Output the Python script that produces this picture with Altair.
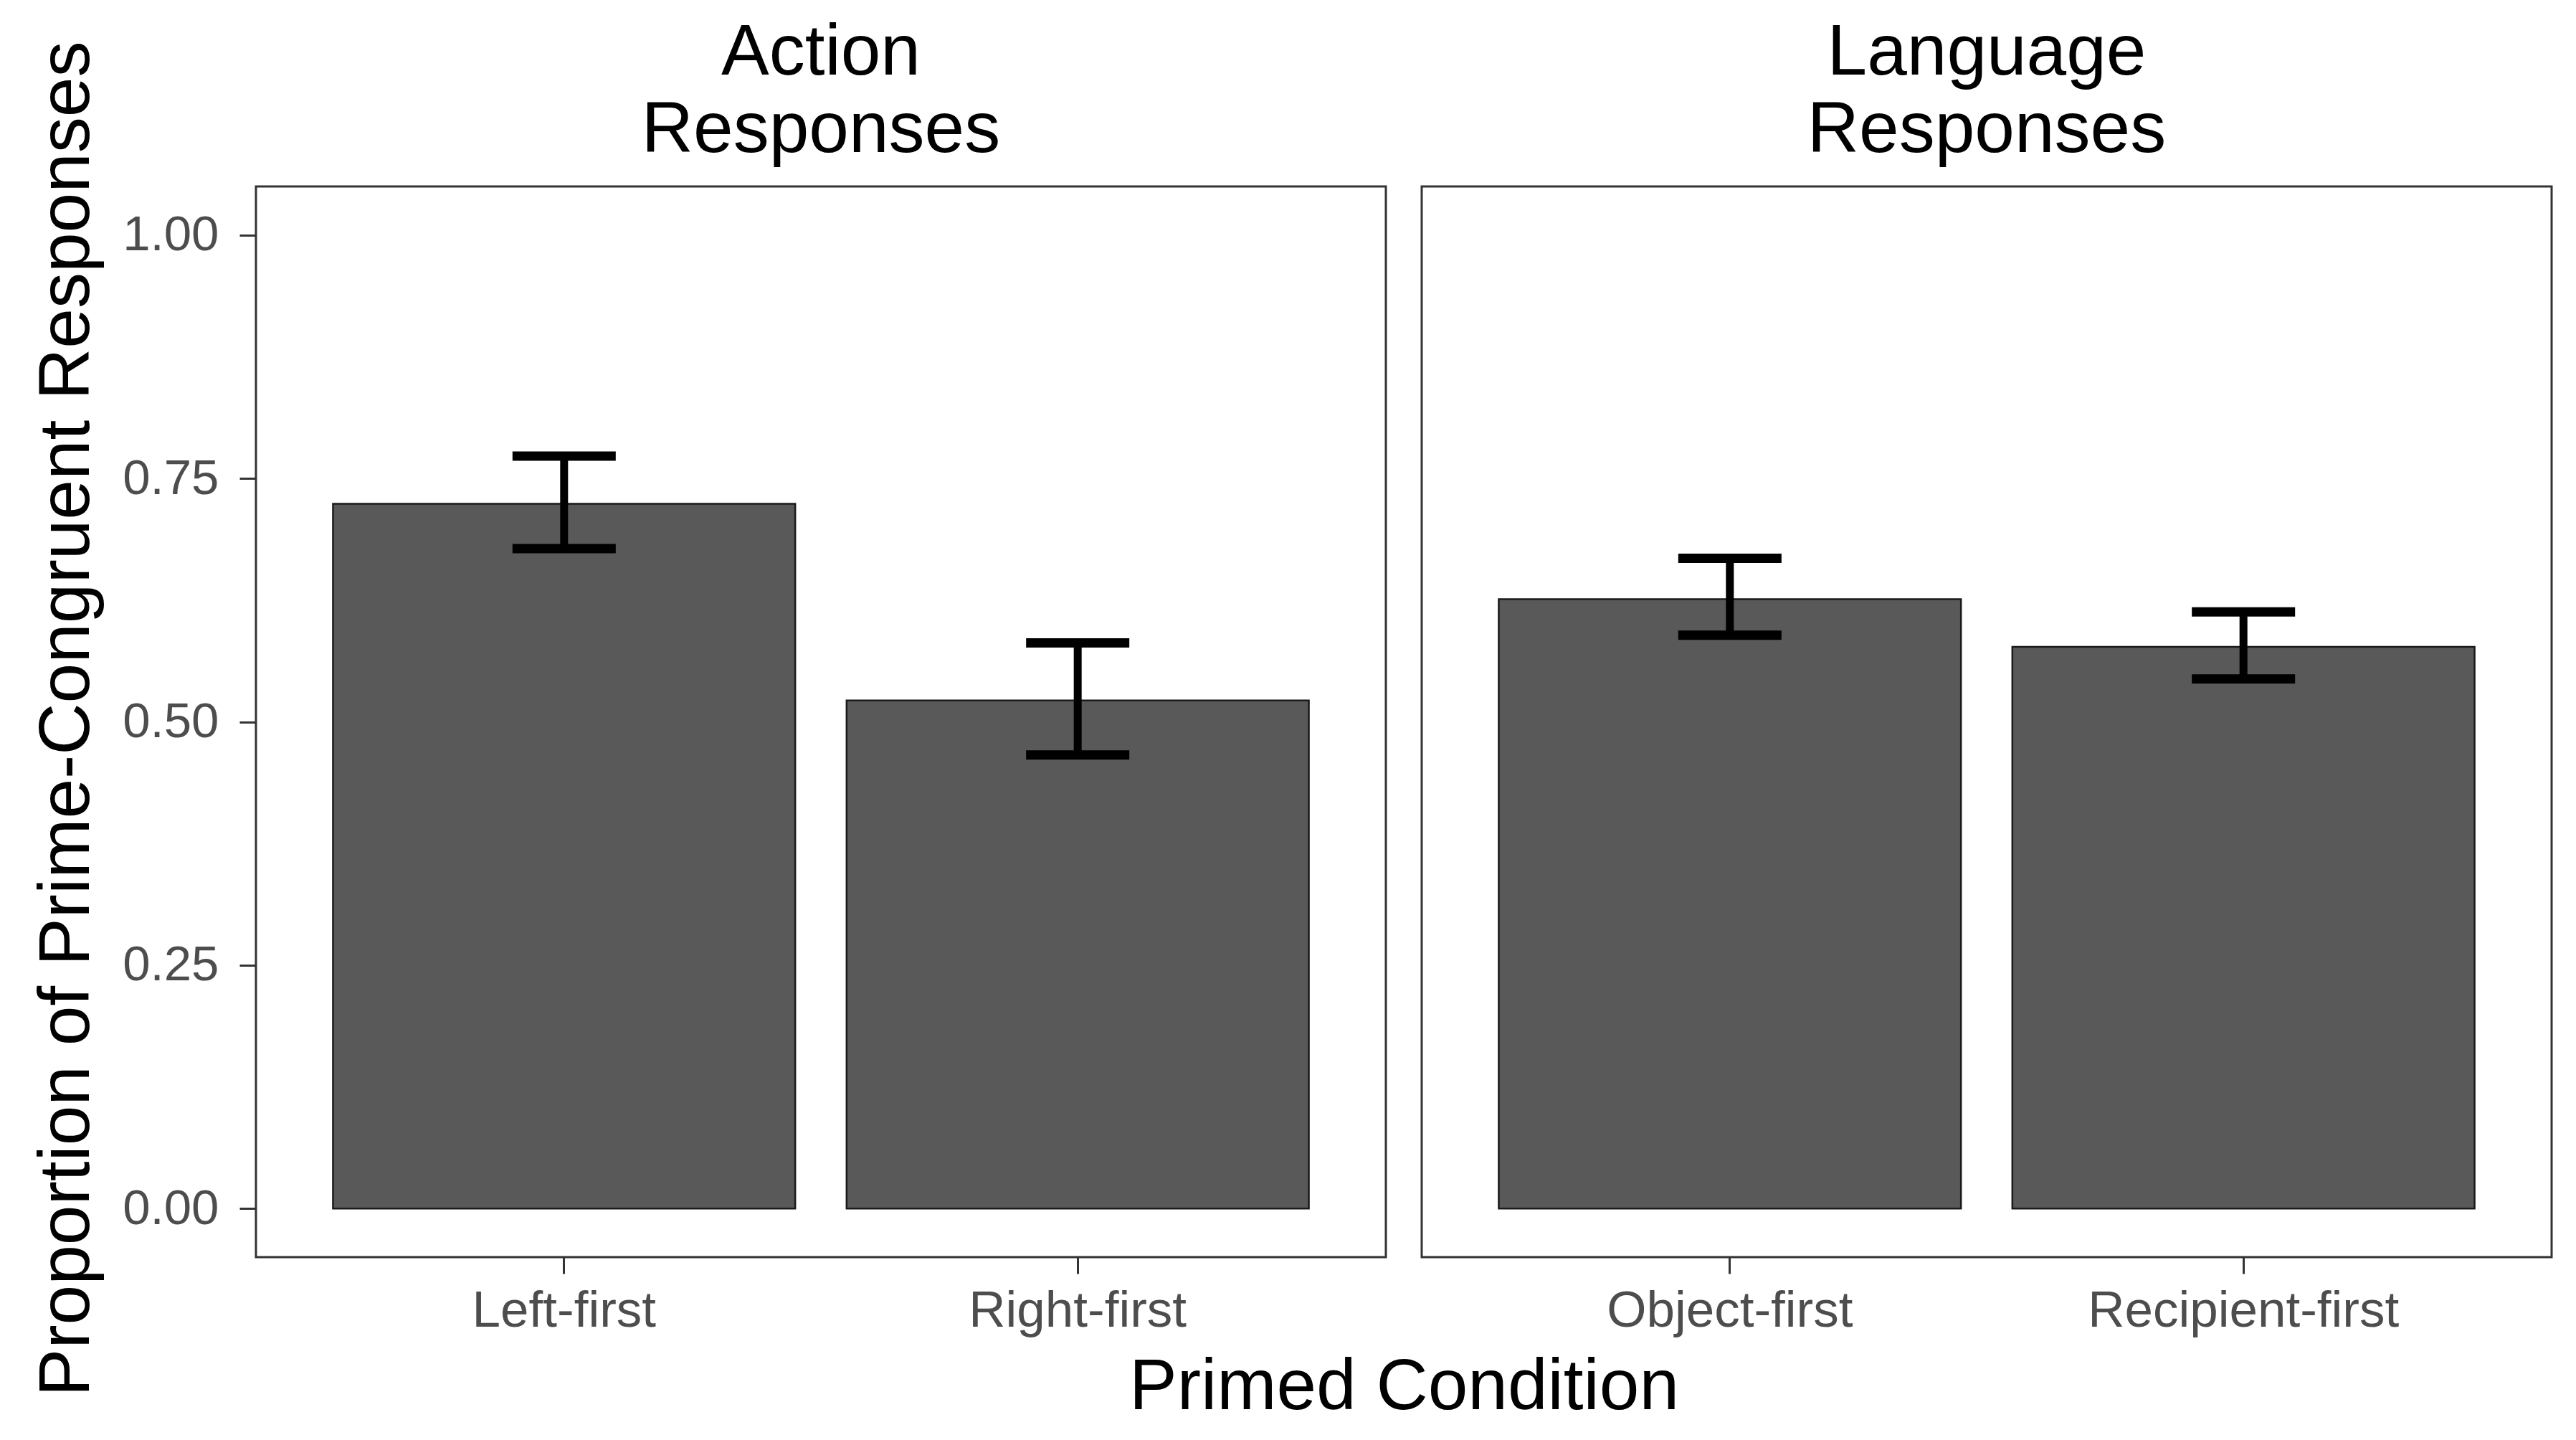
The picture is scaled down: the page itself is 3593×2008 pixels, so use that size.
import altair as alt
import pandas as pd

FONT = "Liberation Sans"

# ---- data ----
action_conditions = ["Left-first", "Right-first"]
action_means = [0.724, 0.522]
action_lower = [0.678, 0.466]
action_upper = [0.773, 0.581]

language_conditions = ["Object-first", "Recipient-first"]
language_means = [0.626, 0.577]
language_lower = [0.589, 0.544]
language_upper = [0.668, 0.613]

panel_titles = [["Action", "Responses"], ["Language", "Responses"]]
y_title = "Proportion of Prime-Congruent Responses"
x_title = "Primed Condition"
y_ticks = [0.0, 0.25, 0.5, 0.75, 1.0]

PANEL_W = 1576
PANEL_H = 1493
GAP = 50

df_action = pd.DataFrame({"cond": action_conditions, "mean": action_means,
                          "lo": action_lower, "hi": action_upper})
df_language = pd.DataFrame({"cond": language_conditions, "mean": language_means,
                            "lo": language_lower, "hi": language_upper})

yscale = alt.Scale(domain=[-0.05, 1.05], nice=False, zero=False)


def panel(df, order, title, first):
    xscale = alt.Scale(paddingInner=0.1, paddingOuter=0.15)
    if first:
        xaxis = alt.Axis(title=x_title, titleX=(2 * PANEL_W + GAP) / 2,
                         titleY=211, titleBaseline="alphabetic", titleAlign="center",
                         titleFontSize=100, titleFontWeight="normal", titleColor="black",
                         titleFont=FONT)
        yaxis = alt.Axis(title=None,
                         values=y_ticks, format=".2f", grid=False, domain=False,
                         labelFontSize=69, labelColor="#4d4d4d", labelFont=FONT,
                         labelPadding=29, tickSize=23, tickWidth=3, tickColor="#333333")
    else:
        xaxis = alt.Axis(title=None)
        yaxis = None

    x = alt.X("cond:N", sort=order, scale=xscale, axis=xaxis)
    base = alt.Chart(df)
    bars = base.mark_bar(color="#595959", stroke="#1a1a1a", strokeWidth=2.5).encode(
        x=x,
        y=alt.Y("mean:Q", scale=yscale, axis=yaxis),
        y2=alt.datum(0),
    )
    xn = alt.X("cond:N", sort=order)
    err = base.mark_rule(color="black", strokeWidth=11).encode(
        x=xn, y=alt.Y("lo:Q"), y2="hi:Q")
    cap_lo = base.mark_tick(color="black", size=144, thickness=13, opacity=1).encode(
        x=xn, y=alt.Y("lo:Q"))
    cap_hi = base.mark_tick(color="black", size=144, thickness=13, opacity=1).encode(
        x=xn, y=alt.Y("hi:Q"))
    ttl = alt.Chart(pd.DataFrame({"t": ["\n".join(title)]})).mark_text(
        fontSize=100, font=FONT, color="black", baseline="alphabetic",
        align="center", lineBreak="\n", lineHeight=108,
    ).encode(text="t:N", x=alt.value(PANEL_W / 2), y=alt.value(-156))
    layers = [bars, err, cap_lo, cap_hi, ttl]
    if first:
        ytxt = alt.Chart(pd.DataFrame({"t": [y_title]})).mark_text(
            angle=270, fontSize=100, font=FONT, color="black", baseline="middle",
            align="center",
        ).encode(text="t:N", x=alt.value(-263), y=alt.value(PANEL_H / 2 - 4))
        layers.append(ytxt)
    return alt.layer(*layers).properties(width=PANEL_W, height=PANEL_H)


left = panel(df_action, action_conditions, panel_titles[0], True)
right = panel(df_language, language_conditions, panel_titles[1], False)

chart = alt.hconcat(left, right, spacing=GAP, bounds="flush").resolve_scale(
    x="independent"
).properties(
    padding={"left": 34, "top": 14, "right": 5, "bottom": 5},
    background="white",
).configure_view(
    stroke="#333333", strokeWidth=3
).configure_axisX(
    labelFontSize=71, labelColor="#4d4d4d", labelFont=FONT, labelAngle=0,
    labelPadding=17, labelLimit=0, tickSize=23, tickWidth=3, tickColor="#333333",
    domain=False, grid=False,
)

chart.save("out.html", embed_options={"renderer": "svg", "actions": False})
